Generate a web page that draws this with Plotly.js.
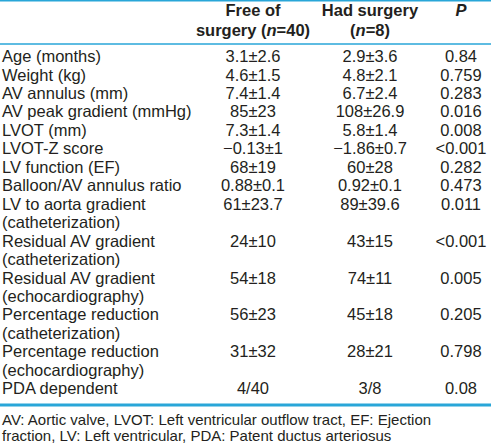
<!DOCTYPE html>
<html>
<head>
<meta charset="utf-8">
<script src="https://cdn.plot.ly/plotly-3.0.1.min.js"></script>
<style>html,body{margin:0;padding:0;background:#fff;}#chart{width:491px;height:445px;}</style>
</head>
<body>
<div id="chart"></div>
<script>
// ---- data ----
const headerLabels = ["Free of|surgery (<i>n</i>=40)", "Had surgery|(<i>n</i>=8)", "<i>P</i>"];
const rowLabels = [
  "Age (months)",
  "Weight (kg)",
  "AV annulus (mm)",
  "AV peak gradient (mmHg)",
  "LVOT (mm)",
  "LVOT-Z score",
  "LV function (EF)",
  "Balloon/AV annulus ratio",
  "LV to aorta gradient|(catheterization)",
  "Residual AV gradient|(catheterization)",
  "Residual AV gradient|(echocardiography)",
  "Percentage reduction|(catheterization)",
  "Percentage reduction|(echocardiography)",
  "PDA dependent"
];
const freeOfSurgery = ["3.1±2.6", "4.6±1.5", "7.4±1.4", "85±23", "7.3±1.4", "−0.13±1", "68±19", "0.88±0.1", "61±23.7", "24±10", "54±18", "56±23", "31±32", "4/40"];
const hadSurgery = ["2.9±3.6", "4.8±2.1", "6.7±2.4", "108±26.9", "5.8±1.4", "−1.86±0.7", "60±28", "0.92±0.1", "89±39.6", "43±15", "74±11", "45±18", "28±21", "3/8"];
const pValues = ["0.84", "0.759", "0.283", "0.016", "0.008", "<0.001", "0.282", "0.473", "0.011", "<0.001", "0.005", "0.205", "0.798", "0.08"];
const footnoteLines = [
  "AV: Aortic valve, LVOT: Left ventricular outflow tract, EF: Ejection",
  "fraction, LV: Left ventricular, PDA: Patent ductus arteriosus"
];

// ---- layout constants ----
const W = 491, H = 445;
const FONT = "Liberation Sans, Arial, Helvetica, sans-serif";
const TXT = "#231f20";
const BLUE = "#29a6d8";
const colX = [2, 253, 370, 461];
const headerY0 = 12, headerStep = 20;
const bodyY0 = 58, bodyStep = 18.45;
const footY0 = 421, footStep = 16.5;

// build text positions
const lab = {x: [], y: [], t: []};
const cols = [{x: [], y: [], t: []}, {x: [], y: [], t: []}, {x: [], y: [], t: []}];
let line = 0;
rowLabels.forEach((l, i) => {
  const parts = l.split("|");
  const y = bodyY0 + line * bodyStep;
  parts.forEach((p, k) => { lab.x.push(colX[0]); lab.y.push(y + k * bodyStep); lab.t.push(p); });
  [freeOfSurgery, hadSurgery, pValues].forEach((arr, c) => {
    cols[c].x.push(colX[c + 1]); cols[c].y.push(y); cols[c].t.push(arr[i]);
  });
  line += parts.length;
});
const hdr = {x: [], y: [], t: []};
headerLabels.forEach((h, c) => {
  h.split("|").forEach((p, k) => { hdr.x.push(colX[c + 1]); hdr.y.push(headerY0 + k * headerStep); hdr.t.push("<b>" + p + "</b>"); });
});
const foot = {x: [], y: [], t: []};
footnoteLines.forEach((f, k) => { foot.x.push(colX[0]); foot.y.push(footY0 + k * footStep); foot.t.push(f); });

function tr(d, pos, size) {
  return {type: "scatter", mode: "text", x: d.x, y: d.y, text: d.t, textposition: pos,
    textfont: {family: FONT, size: size, color: TXT}, hoverinfo: "skip", showlegend: false, cliponaxis: false};
}
const traces = [
  tr(hdr, "middle center", 16.5),
  tr(lab, "middle right", 16.5),
  tr(cols[0], "middle center", 16.5),
  tr(cols[1], "middle center", 16.5),
  tr(cols[2], "middle center", 16.5),
  tr(foot, "middle right", 15)
];

const layout = {
  width: W, height: H,
  margin: {l: 0, r: 0, t: 0, b: 0},
  paper_bgcolor: "#fff", plot_bgcolor: "#fff",
  xaxis: {range: [0, W], visible: false, fixedrange: true},
  yaxis: {range: [H, 0], visible: false, fixedrange: true},
  shapes: [
    {type: "line", xref: "paper", x0: 0, x1: 1, yref: "y", y0: 0.7, y1: 0.7, line: {color: BLUE, width: 1.5}},
    {type: "line", xref: "paper", x0: 0, x1: 1, yref: "y", y0: 44, y1: 44, line: {color: BLUE, width: 1.3}},
    {type: "line", xref: "paper", x0: 0, x1: 1, yref: "y", y0: 405, y1: 405, line: {color: BLUE, width: 3}}
  ]
};
Plotly.newPlot("chart", traces, layout, {staticPlot: true, displayModeBar: false});
</script>
</body>
</html>
